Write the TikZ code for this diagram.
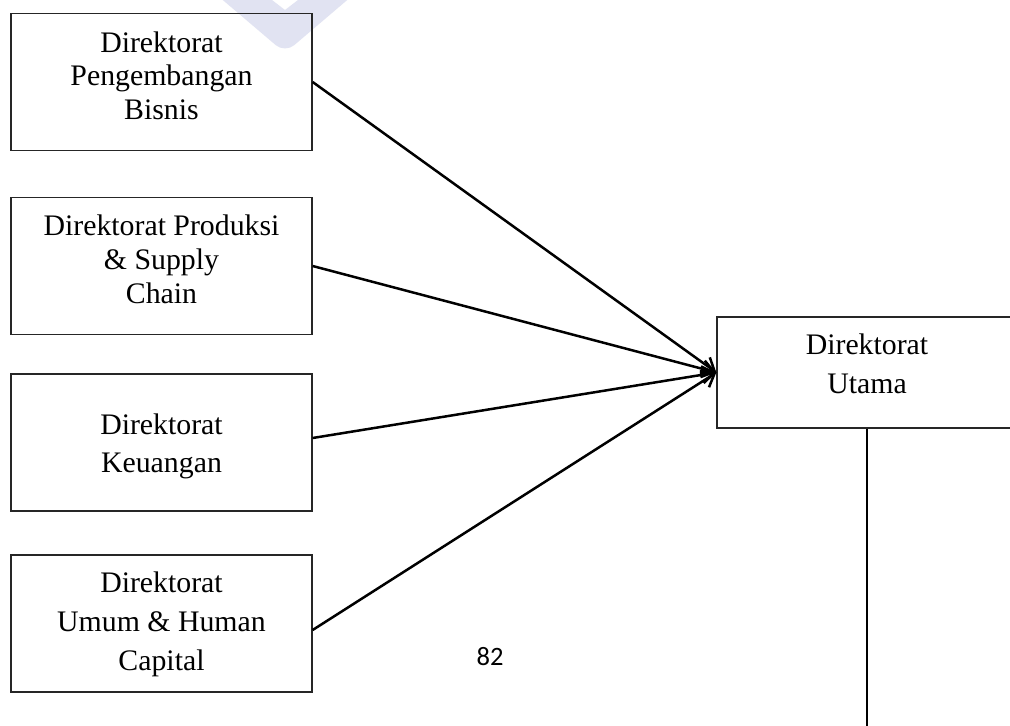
\documentclass[tikz,border=0pt]{standalone}
\usepackage{fontspec}
\setmainfont{Liberation Serif}
\newfontfamily\pagenumfont{Carlito}
\usetikzlibrary{arrows.meta}

\definecolor{wmcolor}{RGB}{225,227,242}

\tikzset{
  unitbox/.style={draw=black!85, line width=1.3pt, minimum width=301pt, minimum height=137pt, inner sep=0pt},
  headbox/.style={draw=black!85, line width=1.3pt, minimum width=300pt, minimum height=111pt, inner sep=0pt},
  boxtext/.style={anchor=north, inner sep=0pt, align=center},
  link/.style={line width=2.5pt, -{Straight Barb[length=12pt, width=17pt]}},
  trunk/.style={line width=2.2pt},
}

\begin{document}
\begin{tikzpicture}[x=1pt, y=-1pt]
  \clip (0,0) rectangle (1010,726);
  \fill[white] (0,0) rectangle (1010,726);

  % faint chevron mark behind the top box
  \fill[wmcolor] (211,-10) [rounded corners=12pt] -- (285,53) [sharp corners] -- (359,-10)
    -- (311,-10) -- (285,10) -- (259,-10) -- cycle;

  % directorate boxes
  \node[unitbox] (b1) at (161.5,82) {};
  \node[unitbox] (b2) at (161.5,266) {};
  \node[unitbox] (b3) at (161.5,442.5) {};
  \node[unitbox] (b4) at (161.5,623.5) {};
  \node[headbox] (main) at (867,372.5) {};

  % box labels
  \node[boxtext, font=\fontsize{29.8}{33.5}\selectfont] (t1) at (161.5,31.6)
    {Direktorat\\Pengembangan\\Bisnis};
  \node[boxtext, font=\fontsize{29.8}{34}\selectfont] (t2) at (161.5,214.6)
    {Direktorat Produksi\\\& Supply\\Chain};
  \node[boxtext, font=\fontsize{29.8}{38}\selectfont] (t3) at (161.5,413.6)
    {Direktorat\\Keuangan};
  \node[boxtext, font=\fontsize{29.8}{39}\selectfont] (t4) at (161.5,571.6)
    {Direktorat\\Umum \& Human\\Capital};
  \node[boxtext, font=\fontsize{29.8}{39}\selectfont] (t5) at (867,333.6)
    {Direktorat\\Utama};

  % reporting lines
  \draw[link] (b1.east) -- (main.west);
  \draw[link] (b2.east) -- (main.west);
  \draw[link] ([yshift=4.5pt]b3.east) -- (main.west);
  \draw[link] ([yshift=-6.5pt]b4.east) -- (main.west);

  % line down from the main directorate
  \coordinate (down) at (867,730);
  \draw[trunk] (main.south) -- (down);

  % page number
  \node[anchor=base, inner sep=0pt, font=\pagenumfont\fontsize{26.5}{30}\selectfont] (pg) at (490,665) {82};
\end{tikzpicture}
\end{document}
